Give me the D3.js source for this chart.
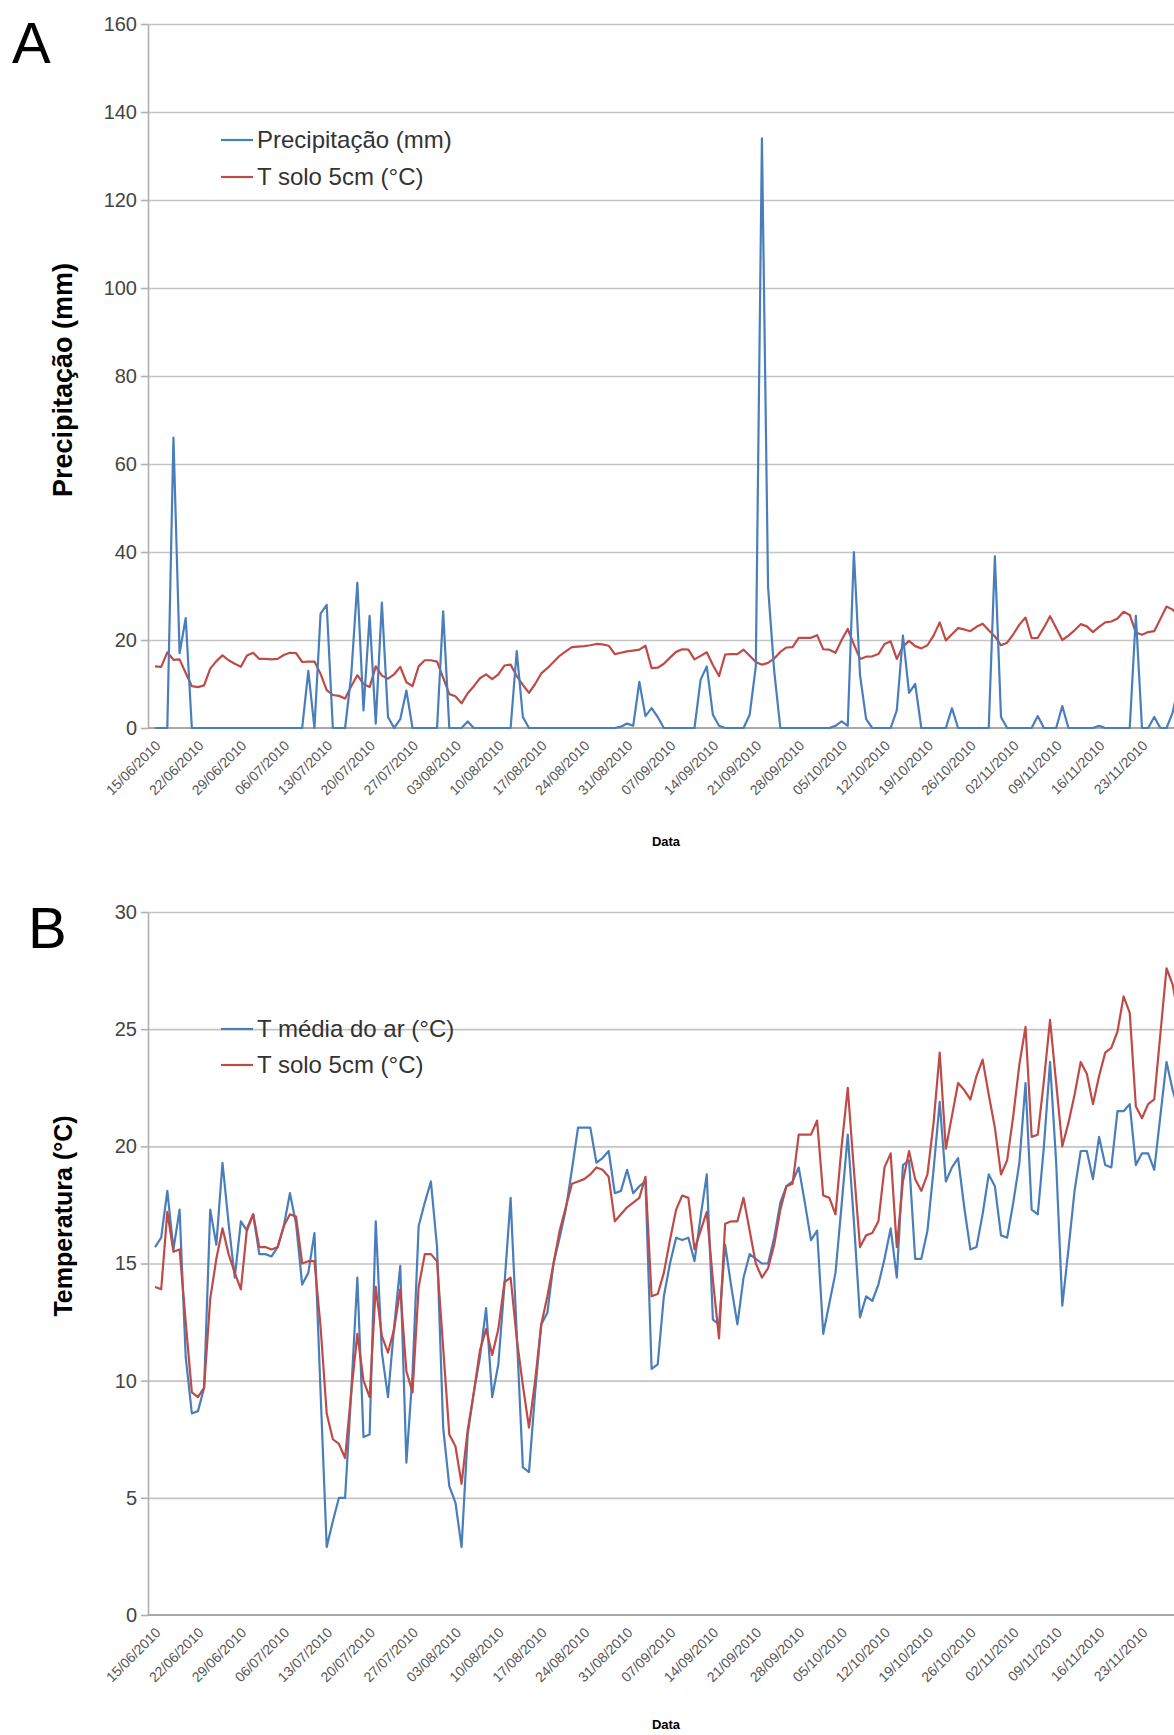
<!DOCTYPE html>
<html>
<head>
<meta charset="utf-8">
<script src="https://cdn.jsdelivr.net/npm/d3@7"></script>
<style>
  body { margin: 0; background: #fff; }
  svg { display: block; font-family: "Liberation Sans", Arial, sans-serif; }
</style>
</head>
<body>
<svg width="1174" height="1735"></svg>
<script>
// daily series, one value per day from startDate
var startDate = "15/06/2010";

var tickLabels = ["15/06/2010", "22/06/2010", "29/06/2010", "06/07/2010", "13/07/2010", "20/07/2010",
    "27/07/2010", "03/08/2010", "10/08/2010", "17/08/2010", "24/08/2010", "31/08/2010", "07/09/2010",
    "14/09/2010", "21/09/2010", "28/09/2010", "05/10/2010", "12/10/2010", "19/10/2010", "26/10/2010",
    "02/11/2010", "09/11/2010", "16/11/2010", "23/11/2010"];

var yTicksA = [0, 20, 40, 60, 80, 100, 120, 140, 160];
var yTicksB = [0, 5, 10, 15, 20, 25, 30];

var precipitacao = [
    0, 0, 0, 66, 17, 25, 0, 0, 0, 0,
    0, 0, 0, 0, 0, 0, 0, 0, 0, 0,
    0, 0, 0, 0, 0, 13, 0, 26, 28, 0,
    0, 0, 12, 33, 4, 25.5, 1, 28.5, 2.5, 0,
    2, 8.5, 0, 0, 0, 0, 0, 26.5, 0, 0,
    0, 1.5, 0, 0, 0, 0, 0, 0, 0, 17.5,
    2.5, 0, 0, 0, 0, 0, 0, 0, 0, 0,
    0, 0, 0, 0, 0, 0, 0.3, 1, 0.5, 10.5,
    2.7, 4.5, 2.5, 0, 0, 0, 0, 0, 0, 11,
    14, 3, 0.5, 0, 0, 0, 0, 3, 14, 134,
    32, 13, 0, 0, 0, 0, 0, 0, 0, 0,
    0, 0.5, 1.5, 0.5, 40, 12, 2, 0, 0, 0,
    0, 4, 21, 8, 10, 0, 0, 0, 0, 0,
    4.5, 0, 0, 0, 0, 0, 0, 39, 2.5, 0,
    0, 0, 0, 0, 2.7, 0, 0, 0, 5, 0,
    0, 0, 0, 0, 0.5, 0, 0, 0, 0, 0,
    25.5, 0, 0, 2.5, 0, 0, 3.5, 10
];

var tSolo = [
    14.0, 13.9, 17.2, 15.5, 15.6, 12.5, 9.5, 9.3, 9.7, 13.5,
    15.2, 16.5, 15.4, 14.6, 13.9, 16.5, 17.1, 15.7, 15.7, 15.6,
    15.7, 16.6, 17.1, 17.0, 15.0, 15.1, 15.1, 12.3, 8.6, 7.5,
    7.3, 6.7, 9.5, 12.0, 10.0, 9.3, 14.0, 11.9, 11.2, 12.2,
    13.9, 10.4, 9.5, 14.0, 15.4, 15.4, 15.1, 11.4, 7.7, 7.2,
    5.6, 7.9, 9.5, 11.3, 12.2, 11.1, 12.2, 14.2, 14.4, 11.8,
    9.8, 8.0, 10.0, 12.4, 13.6, 15.0, 16.4, 17.4, 18.4, 18.5,
    18.6, 18.8, 19.1, 19.0, 18.7, 16.8, 17.1, 17.4, 17.6, 17.8,
    18.7, 13.6, 13.7, 14.6, 16.0, 17.3, 17.9, 17.8, 15.6, 16.4,
    17.2, 14.3, 11.8, 16.7, 16.8, 16.8, 17.8, 16.4, 15.0, 14.4,
    14.8, 15.8, 17.3, 18.3, 18.4, 20.5, 20.5, 20.5, 21.1, 17.9,
    17.8, 17.1, 20.0, 22.5, 19.0, 15.7, 16.2, 16.3, 16.8, 19.1,
    19.7, 15.7, 18.5, 19.8, 18.6, 18.1, 18.8, 21.0, 24.0, 19.9,
    21.3, 22.7, 22.4, 22.0, 23.0, 23.7, 22.2, 20.8, 18.8, 19.4,
    21.3, 23.5, 25.1, 20.4, 20.5, 22.8, 25.4, 22.7, 20.0, 21.0,
    22.2, 23.6, 23.1, 21.8, 23.0, 24.0, 24.2, 24.9, 26.4, 25.7,
    21.7, 21.2, 21.8, 22.0, 24.8, 27.6, 26.9, 25.5
];

var tAr = [
    15.7, 16.1, 18.1, 15.6, 17.3, 11.0, 8.6, 8.7, 9.7, 17.3,
    15.8, 19.3, 16.7, 14.4, 16.8, 16.4, 17.1, 15.4, 15.4, 15.3,
    15.7, 16.6, 18.0, 16.7, 14.1, 14.6, 16.3, 9.5, 2.9, 4.0,
    5.0, 5.0, 9.5, 14.4, 7.6, 7.7, 16.8, 11.2, 9.3, 12.3,
    14.9, 6.5, 10.3, 16.6, 17.6, 18.5, 15.7, 8.0, 5.5, 4.8,
    2.9, 7.7, 9.5, 11.0, 13.1, 9.3, 10.7, 14.1, 17.8, 12.0,
    6.3, 6.1, 9.5, 12.4, 12.9, 15.0, 16.1, 17.3, 19.0, 20.8,
    20.8, 20.8, 19.3, 19.5, 19.8, 18.0, 18.1, 19.0, 18.0, 18.3,
    18.5, 10.5, 10.7, 13.6, 15.0, 16.1, 16.0, 16.1, 15.1, 17.0,
    18.8, 12.6, 12.4, 15.8, 14.0, 12.4, 14.4, 15.4, 15.2, 15.0,
    15.0, 16.1, 17.6, 18.3, 18.5, 19.1, 17.6, 16.0, 16.4, 12.0,
    13.3, 14.6, 17.5, 20.5, 16.8, 12.7, 13.6, 13.4, 14.1, 15.2,
    16.5, 14.4, 19.2, 19.4, 15.2, 15.2, 16.4, 19.0, 21.9, 18.5,
    19.1, 19.5, 17.4, 15.6, 15.7, 17.1, 18.8, 18.3, 16.2, 16.1,
    17.6, 19.3, 22.7, 17.3, 17.1, 20.0, 23.6, 19.3, 13.2, 15.6,
    18.1, 19.8, 19.8, 18.6, 20.4, 19.2, 19.1, 21.5, 21.5, 21.8,
    19.2, 19.7, 19.7, 19.0, 21.3, 23.6, 22.4, 21.5
];

var blue = "#4a7ebb",
    red = "#be4b48";

window.addEventListener("DOMContentLoaded", function () {
    drawFigure();
});

function drawFigure() {
    var svg = d3.select("svg"),
        width = +svg.attr("width");

    var parseDate = d3.utcParse("%d/%m/%Y"),
        formatDate = d3.utcFormat("%d/%m/%Y"),
        start = parseDate(startDate);

    var days = d3.utcDay.range(start, d3.utcDay.offset(start, precipitacao.length)).map(formatDate);

    var left = 152,
        step = 6.13;

    var x = d3.scaleBand()
        .domain(days)
        .range([left, left + days.length * step]);

    function xc(d) { return x(d) + x.bandwidth() / 2; }

    // Panel A
    var yA = d3.scaleLinear().domain([0, 160]).range([728, 24]);
    drawPanel(svg, {
        x: x, xc: xc, y: yA, ticks: yTicksA, days: days, axisX: 148, width: width,
        letter: "A", letterX: 12, letterY: 63,
        title: "Precipitação (mm)", titleY: 380, titleSize: 27,
        dataY: 846,
        series: [
            {name: "Precipitação (mm)", values: precipitacao, color: blue},
            {name: "T solo 5cm (°C)", values: tSolo, color: red}
        ],
        legendY: [140, 177],
        order: [1, 0]
    });

    // Panel B
    var yB = d3.scaleLinear().domain([0, 30]).range([1615, 912]);
    drawPanel(svg, {
        x: x, xc: xc, y: yB, ticks: yTicksB, days: days, axisX: 148, width: width,
        letter: "B", letterX: 28, letterY: 948,
        title: "Temperatura (°C)", titleY: 1216, titleSize: 25,
        dataY: 1729,
        series: [
            {name: "T média do ar (°C)", values: tAr, color: blue},
            {name: "T solo 5cm (°C)", values: tSolo, color: red}
        ],
        legendY: [1029, 1065],
        order: [0, 1]
    });
}

function drawPanel(svg, o) {
    var y = o.y,
        y0 = y(0);

    // gridlines
    svg.append("g")
        .attr("transform", "translate(" + o.axisX + ",0)")
        .call(d3.axisLeft(y).tickValues(o.ticks.slice(1)).tickSize(-(o.width - o.axisX)).tickFormat(""))
        .call(function (g) { g.select(".domain").remove(); })
        .selectAll("line")
        .attr("stroke", "#c4c4c4")
        .attr("stroke-width", 1.6);

    // y axis
    var yAxis = svg.append("g")
        .attr("transform", "translate(" + o.axisX + ",0)")
        .call(d3.axisLeft(y).tickValues(o.ticks).tickSize(7).tickSizeOuter(0).tickPadding(4));
    yAxis.select(".domain").attr("stroke", "#b0b0b0").attr("stroke-width", 1.6);
    yAxis.selectAll("line").attr("stroke", "#b0b0b0").attr("stroke-width", 1.6);
    yAxis.selectAll("text")
        .attr("fill", "#444")
        .style("font-size", "20px");

    // x axis
    var xAxis = svg.append("g")
        .attr("transform", "translate(0," + y0 + ")")
        .call(d3.axisBottom(o.x).tickValues(tickLabels).tickSize(0).tickSizeOuter(0));
    xAxis.select(".domain").remove();
    xAxis.selectAll("text")
        .attr("x", 0)
        .attr("y", 0)
        .attr("dy", "0.35em")
        .attr("transform", "translate(3,15) rotate(-45)")
        .style("text-anchor", "end")
        .style("font-size", "14px")
        .attr("fill", "#555");
    svg.append("line")
        .attr("x1", o.axisX).attr("x2", o.width)
        .attr("y1", y0).attr("y2", y0)
        .attr("stroke", "#a8a8a8")
        .attr("stroke-width", 2);

    // series
    o.order.forEach(function (k) {
        var s = o.series[k];
        var line = d3.line()
            .x(function (d, i) { return o.xc(o.days[i]); })
            .y(function (d) { return y(d); });
        svg.append("path")
            .datum(s.values)
            .attr("fill", "none")
            .attr("stroke", s.color)
            .attr("stroke-width", 2.2)
            .attr("stroke-linejoin", "round")
            .attr("d", line);
    });

    // legend
    o.series.forEach(function (s, i) {
        svg.append("line")
            .attr("x1", 221).attr("x2", 253)
            .attr("y1", o.legendY[i]).attr("y2", o.legendY[i])
            .attr("stroke", s.color)
            .attr("stroke-width", 2.2);
        svg.append("text")
            .attr("x", 257)
            .attr("y", o.legendY[i])
            .attr("dy", "0.35em")
            .style("font-size", "24px")
            .attr("fill", "#333")
            .text(s.name);
    });

    // titles
    svg.append("text")
        .attr("transform", "translate(72," + o.titleY + ") rotate(-90)")
        .attr("text-anchor", "middle")
        .style("font-size", o.titleSize + "px")
        .style("font-weight", "bold")
        .text(o.title);

    svg.append("text")
        .attr("x", 666)
        .attr("y", o.dataY)
        .attr("text-anchor", "middle")
        .style("font-size", "13px")
        .style("font-weight", "bold")
        .text("Data");

    svg.append("text")
        .attr("x", o.letterX)
        .attr("y", o.letterY)
        .style("font-size", "58px")
        .text(o.letter);
}
</script>
</body>
</html>
